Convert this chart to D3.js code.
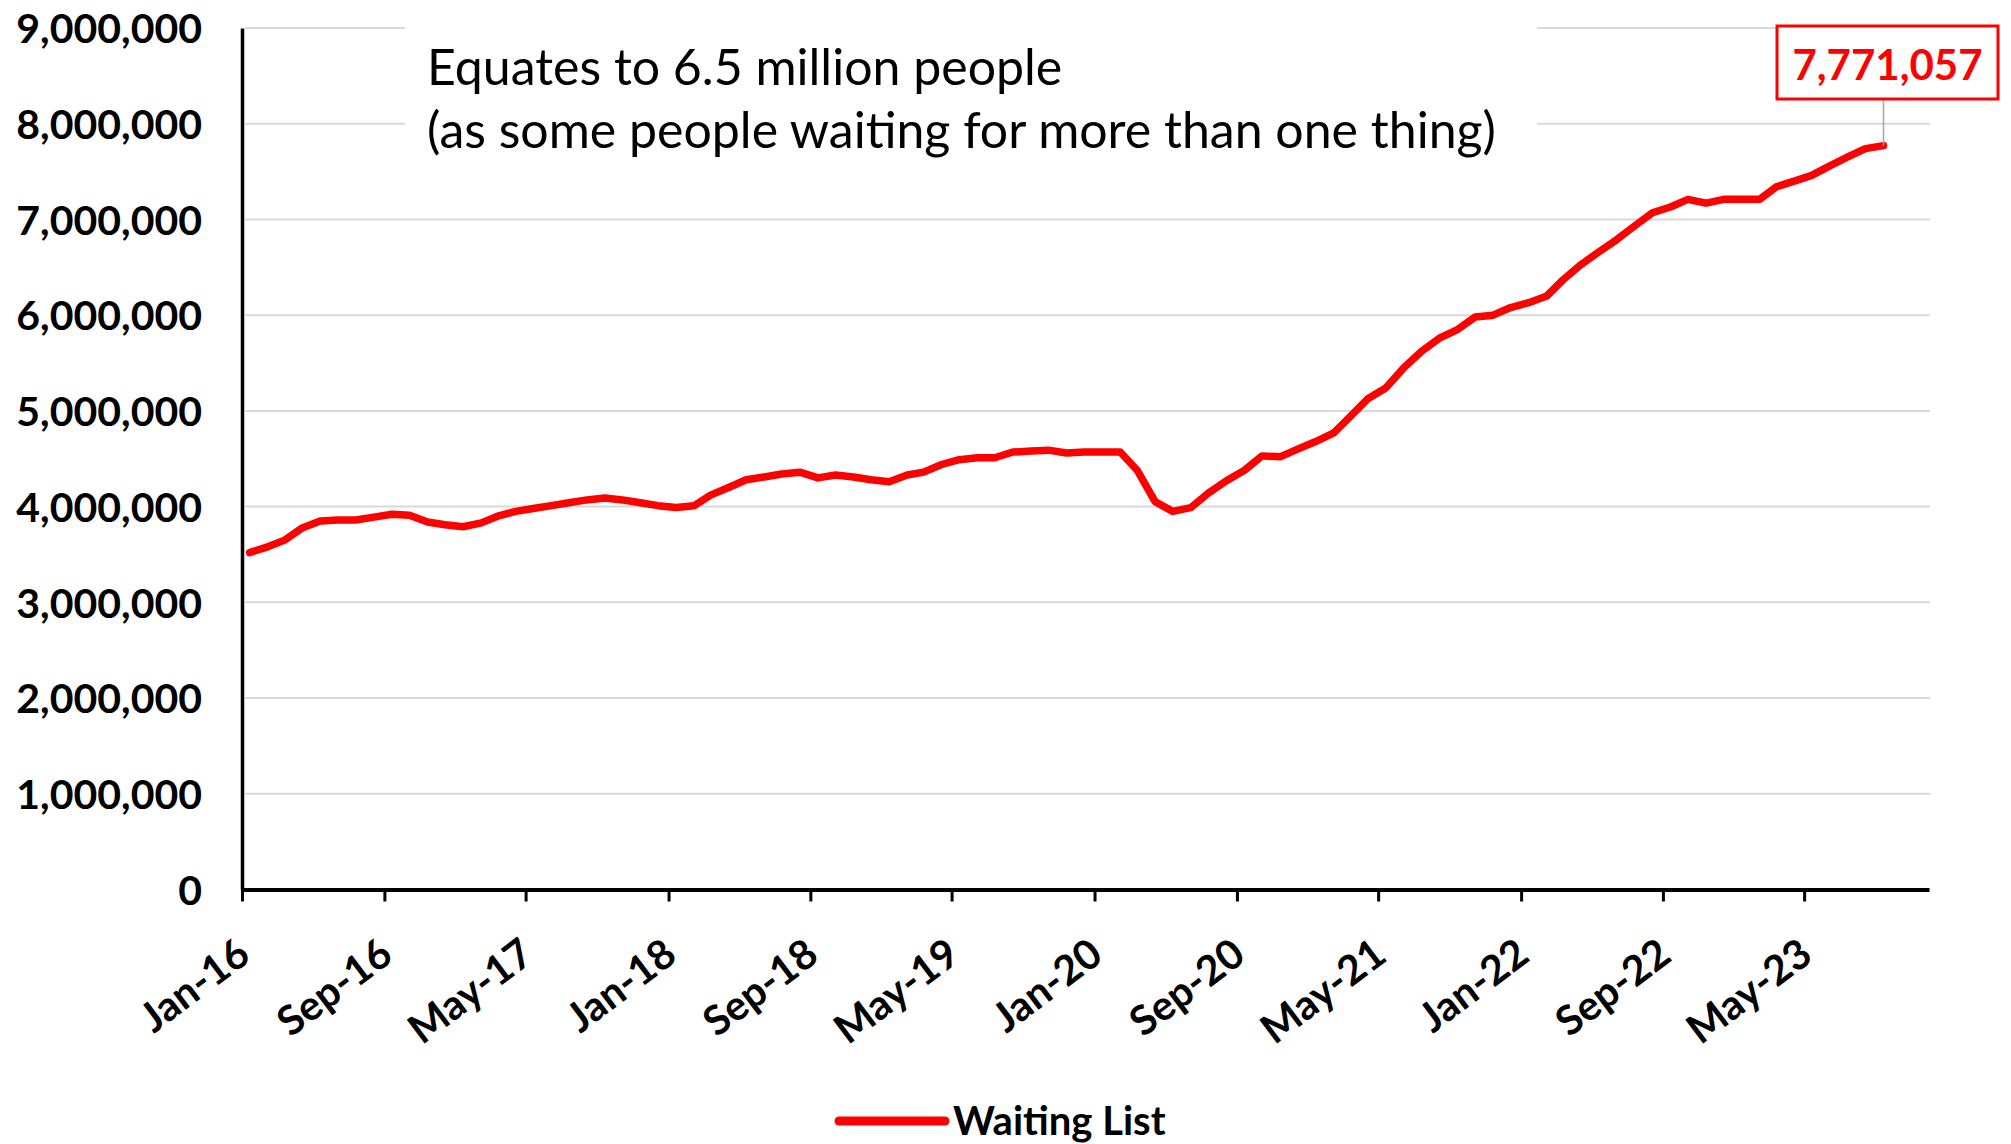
<!DOCTYPE html>
<html>
<head>
<meta charset="utf-8">
<script src="https://cdnjs.cloudflare.com/ajax/libs/d3/7.8.5/d3.min.js"></script>
<style>
    body { margin: 0; background: #fff; }
    svg { display: block; font-family: Lato, "Open Sans", sans-serif; }
</style>
</head>
<body>
<svg id="chart"></svg>
<script>
// RTT waiting list, one value per month from Jan-16 to Sep-23
var waitingList = [
    3520000, 3580000, 3650000, 3780000, 3850000, 3860000, 3860000, 3890000, 3920000, 3910000, 3840000, 3810000,
    3790000, 3830000, 3900000, 3950000, 3980000, 4010000, 4040000, 4070000, 4090000, 4070000, 4040000, 4010000,
    3990000, 4010000, 4120000, 4200000, 4280000, 4310000, 4340000, 4360000, 4300000, 4330000, 4310000, 4280000,
    4260000, 4330000, 4360000, 4440000, 4490000, 4510000, 4510000, 4570000, 4580000, 4590000, 4560000, 4570000,
    4570000, 4570000, 4380000, 4050000, 3950000, 3990000, 4140000, 4270000, 4380000, 4530000, 4520000, 4600000,
    4680000, 4770000, 4940000, 5130000, 5240000, 5450000, 5620000, 5760000, 5850000, 5980000, 6000000, 6080000,
    6130000, 6200000, 6370000, 6530000, 6660000, 6790000, 6930000, 7070000, 7130000, 7210000, 7170000, 7210000,
    7210000, 7210000, 7340000, 7400000, 7460000, 7560000, 7650000, 7740000, 7771057
];

var tickLabels = ["Jan-16", "Sep-16", "May-17", "Jan-18", "Sep-18", "May-19",
    "Jan-20", "Sep-20", "May-21", "Jan-22", "Sep-22", "May-23"];
var yTicks = [0, 1000000, 2000000, 3000000, 4000000, 5000000, 6000000, 7000000, 8000000, 9000000];
var seriesName = "Waiting List";
var noteLines = ["Equates to 6.5 million people", "(as some people waiting for more than one thing)"];

var width = 2011,
    height = 1144;

var svg = d3.select("#chart")
    .attr("width", width)
    .attr("height", height);

// monthly figures are plotted mid-month, ticks sit on the 1st
var data = waitingList.map(function (v, i) {
    return { date: new Date(2016, i, 14), value: v };
});
var tickDates = tickLabels.map(function (d, i) {
    return new Date(2016, i * 8, 1);
});

var x = d3.scaleTime()
    .domain([new Date(2016, 0, 1), new Date(2023, 11, 1)])
    .range([242, 1929]);

var y = d3.scaleLinear()
    .domain([0, 9000000])
    .range([889.5, 28]);

// gridlines
svg.append("g")
    .selectAll("line")
    .data(yTicks.slice(1))
    .join("line")
    .attr("x1", 245)
    .attr("x2", 1930)
    .attr("y1", function (d) { return y(d); })
    .attr("y2", function (d) { return y(d); })
    .attr("stroke", "#d9d9d9")
    .attr("stroke-width", 2);

// white box of the note hides the top gridlines
svg.append("rect")
    .attr("x", 405)
    .attr("y", 4)
    .attr("width", 1132)
    .attr("height", 165)
    .attr("fill", "#fff");

svg.selectAll("text.note")
    .data(noteLines)
    .join("text")
    .attr("class", "note")
    .attr("x", 427)
    .attr("y", function (d, i) { return 85 + i * 63; })
    .attr("font-size", "50px")
    .attr("fill", "#000")
    .text(function (d) { return d; });

// y axis
var yAxis = svg.append("g")
    .attr("transform", "translate(242,0)")
    .call(d3.axisLeft(y)
        .tickValues(yTicks)
        .tickSize(0)
        .tickPadding(40)
        .tickFormat(d3.format(",")));

yAxis.select(".domain")
    .attr("stroke", "#000")
    .attr("stroke-width", 3.5);

yAxis.selectAll("text")
    .attr("dy", "0.36em")
    .attr("font-family", "Lato, sans-serif")
    .attr("font-size", "41px")
    .attr("font-weight", "bold")
    .attr("fill", "#000");

// x axis
var xAxis = svg.append("g")
    .attr("transform", "translate(0," + y(0) + ")")
    .call(d3.axisBottom(x)
        .tickValues(tickDates)
        .tickSize(12)
        .tickSizeOuter(0)
        .tickFormat(function (d, i) { return tickLabels[i]; }));

xAxis.select(".domain")
    .attr("stroke", "#000")
    .attr("stroke-width", 4);

xAxis.selectAll(".tick line")
    .attr("stroke", "#000")
    .attr("stroke-width", 3);

xAxis.selectAll("text")
    .attr("x", 0)
    .attr("y", 0)
    .attr("dy", 0)
    .attr("transform", "translate(10,70) rotate(-37)")
    .style("text-anchor", "end")
    .attr("font-family", "Lato, sans-serif")
    .attr("font-size", "41px")
    .attr("font-weight", "bold")
    .attr("fill", "#000");

// the series
var line = d3.line()
    .x(function (d) { return x(d.date); })
    .y(function (d) { return y(d.value); });

svg.append("path")
    .datum(data)
    .attr("fill", "none")
    .attr("stroke", "#ff0000")
    .attr("stroke-width", 7.5)
    .attr("stroke-linejoin", "round")
    .attr("stroke-linecap", "round")
    .attr("d", line);

// callout for the latest figure
var last = data[data.length - 1];

svg.append("line")
    .attr("x1", x(last.date))
    .attr("x2", x(last.date))
    .attr("y1", 99)
    .attr("y2", y(last.value))
    .attr("stroke", "#a6a6a6")
    .attr("stroke-width", 1.5);

svg.append("rect")
    .attr("x", 1777)
    .attr("y", 26)
    .attr("width", 221)
    .attr("height", 73)
    .attr("fill", "#fff")
    .attr("stroke", "#ff0000")
    .attr("stroke-width", 3);

svg.append("text")
    .attr("x", 1887.5)
    .attr("y", 80)
    .attr("text-anchor", "middle")
    .attr("font-size", "42px")
    .attr("font-weight", "bold")
    .attr("fill", "#ff0000")
    .text(d3.format(",")(last.value));

// legend
var legend = svg.append("g")
    .attr("transform", "translate(839,1121)");

legend.append("line")
    .attr("x1", 0)
    .attr("x2", 106)
    .attr("stroke", "#ff0000")
    .attr("stroke-width", 9)
    .attr("stroke-linecap", "round");

legend.append("text")
    .attr("x", 114)
    .attr("y", 14)
    .attr("font-size", "40px")
    .attr("font-weight", "bold")
    .attr("fill", "#000")
    .text(seriesName);
</script>
</body>
</html>
